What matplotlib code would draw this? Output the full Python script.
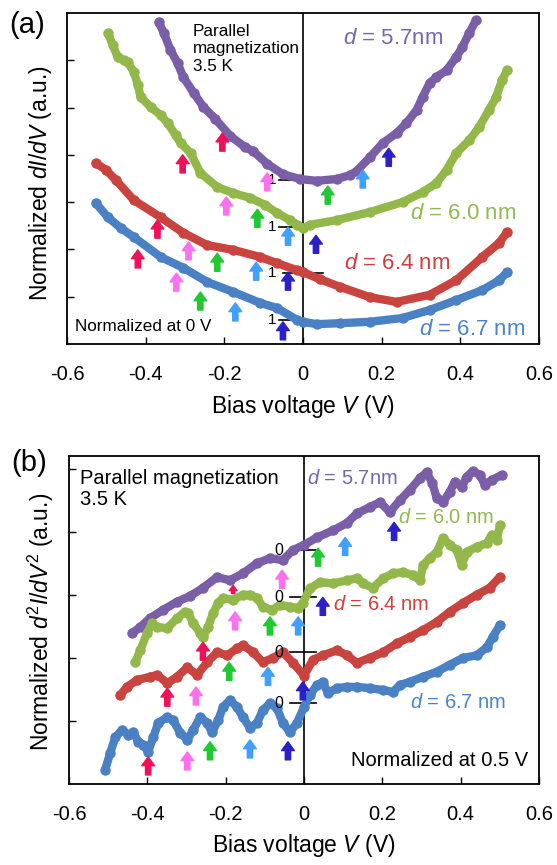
import matplotlib
matplotlib.use('Agg')
import matplotlib.pyplot as plt

plt.rcParams['font.family'] = ['Liberation Sans', 'DejaVu Sans']
plt.rcParams['axes.unicode_minus'] = False
plt.rcParams['mathtext.fontset'] = 'custom'
plt.rcParams['mathtext.rm'] = 'Liberation Sans'
plt.rcParams['mathtext.it'] = 'Liberation Sans:italic'

# ---------------- data: normalized dI/dV (1 at 0 V) ----------------
thickness = ['5.7nm', '6.0 nm', '6.4 nm', '6.7 nm']

v_a_57 = [-0.367, -0.354, -0.337, -0.319, -0.304, -0.278, -0.253, -0.223, -0.185, -0.147,
          -0.127, -0.091, -0.051, -0.008, 0.035, 0.086, 0.119, 0.137, 0.17, 0.203,
          0.238, 0.263, 0.289, 0.304, 0.322, 0.339, 0.365, 0.39, 0.405, 0.423, 0.44]
g_57 = [4.34, 4.11, 3.75, 3.47, 3.17, 2.84, 2.54, 2.29, 1.93, 1.69,
        1.61, 1.34, 1.12, 1.02, 0.98, 1.02, 1.10, 1.19, 1.48, 1.78,
        1.99, 2.20, 2.48, 2.75, 3.05, 3.17, 3.32, 3.60, 3.81, 4.11, 4.38]

v_a_60 = [-0.496, -0.484, -0.471, -0.456, -0.446, -0.430, -0.420, -0.413, -0.387, -0.362,
          -0.344, -0.324, -0.311, -0.286, -0.261, -0.218, -0.177, -0.134, -0.096, -0.066,
          -0.033, -0.015, 0.0, 0.018, 0.086, 0.170, 0.253, 0.304, 0.339, 0.365,
          0.390, 0.423, 0.448, 0.473, 0.491, 0.506, 0.519]
g_60 = [5.11, 4.85, 4.60, 4.53, 4.49, 4.28, 4.01, 3.75, 3.54, 3.37,
        3.20, 2.95, 2.78, 2.57, 2.15, 1.85, 1.72, 1.62, 1.47, 1.30,
        1.15, 1.05, 0.98, 1.05, 1.15, 1.32, 1.53, 1.74, 1.93, 2.21,
        2.57, 2.84, 3.12, 3.48, 3.75, 4.11, 4.32]

v_a_64 = [-0.527, -0.501, -0.476, -0.430, -0.362, -0.304, -0.243, -0.177, -0.109, -0.066,
          -0.015, 0.0, 0.043, 0.094, 0.170, 0.238, 0.322, 0.390, 0.456, 0.499, 0.519]
g_64 = [3.32, 3.17, 2.96, 2.53, 2.17, 1.84, 1.58, 1.48, 1.33, 1.20,
        1.05, 1.01, 0.86, 0.70, 0.48, 0.38, 0.53, 0.84, 1.33, 1.63, 1.86]

v_a_67 = [-0.527, -0.496, -0.463, -0.430, -0.362, -0.304, -0.243, -0.177, -0.109, -0.066,
          -0.015, 0.0, 0.035, 0.094, 0.170, 0.253, 0.322, 0.390, 0.456, 0.499, 0.519]
g_67 = [3.47, 3.17, 2.94, 2.75, 2.33, 2.10, 1.80, 1.59, 1.36, 1.25,
        1.00, 0.96, 0.91, 0.93, 0.96, 1.04, 1.21, 1.42, 1.63, 1.84, 2.01]

# arrow markers (bias, normalized dI/dV at arrow tip)
arrow_v_a = [[-0.205, -0.091, 0.063, 0.152, 0.218],
             [-0.306, -0.195, -0.116, -0.038, 0.033],
             [-0.370, -0.291, -0.218, -0.119, -0.038],
             [-0.420, -0.322, -0.261, -0.172, -0.051]]
arrow_g_a = [[1.99, 1.15, 0.87, 1.21, 1.67],
             [2.53, 1.64, 1.38, 1.00, 0.83],
             [2.11, 1.65, 1.41, 1.22, 1.01],
             [2.48, 1.99, 1.59, 1.36, 0.96]]

# ---------------- data: normalized d2I/dV2 ----------------
v_b_57 = [-0.439, -0.418, -0.393, -0.36, -0.324, -0.291, -0.258, -0.222, -0.189, -0.156,
          -0.12, -0.087, -0.054, -0.028, 0.0, 0.033, 0.074, 0.11, 0.135, 0.168,
          0.194, 0.219, 0.245, 0.27, 0.296, 0.313, 0.327, 0.339, 0.355, 0.372,
          0.385, 0.403, 0.415, 0.431, 0.449, 0.462, 0.479, 0.505]
h_57 = [-1.32, -1.22, -1.08, -0.95, -0.82, -0.73, -0.60, -0.43, -0.48, -0.37,
        -0.21, -0.13, -0.16, 0.00, 0.08, 0.20, 0.31, 0.43, 0.58, 0.68,
        0.76, 0.60, 0.79, 0.95, 1.14, 1.23, 1.07, 0.82, 0.76, 0.92,
        1.08, 1.00, 1.16, 1.25, 1.19, 1.03, 1.11, 1.19]

v_b_60 = [-0.431, -0.418, -0.401, -0.388, -0.375, -0.349, -0.324, -0.304, -0.296, -0.283,
          -0.265, -0.258, -0.245, -0.232, -0.219, -0.207, -0.181, -0.156, -0.138, -0.12,
          -0.105, -0.082, -0.061, -0.036, -0.015, -0.003, 0.015, 0.041, 0.074, 0.11,
          0.135, 0.151, 0.176, 0.202, 0.227, 0.253, 0.278, 0.296, 0.304, 0.321,
          0.339, 0.355, 0.372, 0.39, 0.403, 0.415, 0.441, 0.467, 0.479, 0.492, 0.5]
h_60 = [-1.03, -0.84, -0.57, -0.41, -0.47, -0.49, -0.33, -0.23, -0.25, -0.41,
        -0.57, -0.63, -0.47, -0.25, -0.09, -0.01, -0.04, 0.04, 0.04, -0.01,
        -0.15, -0.20, -0.12, -0.15, -0.17, -0.09, 0.14, 0.24, 0.22, 0.27,
        0.30, 0.22, 0.15, 0.30, 0.38, 0.40, 0.35, 0.27, 0.51, 0.62,
        0.72, 0.94, 0.83, 0.75, 0.51, 0.72, 0.80, 0.86, 0.99, 0.91, 1.14]

v_b_64 = [-0.469, -0.452, -0.426, -0.393, -0.375, -0.349, -0.324, -0.298, -0.273, -0.247,
          -0.222, -0.196, -0.171, -0.156, -0.13, -0.105, -0.079, -0.054, -0.028, 0.0,
          0.023, 0.048, 0.084, 0.11, 0.135, 0.168, 0.202, 0.237, 0.27, 0.304,
          0.339, 0.372, 0.406, 0.441, 0.474, 0.5]
h_64 = [-0.68, -0.55, -0.44, -0.39, -0.36, -0.49, -0.39, -0.24, -0.36, -0.16,
        0.00, -0.05, 0.06, 0.11, 0.00, -0.16, -0.09, 0.00, -0.17, -0.37,
        -0.12, -0.05, 0.03, -0.05, -0.17, -0.09, 0.00, 0.14, 0.24, 0.35,
        0.48, 0.64, 0.78, 0.91, 1.02, 1.19]

v_b_67 = [-0.508, -0.495, -0.482, -0.464, -0.449, -0.436, -0.423, -0.41, -0.398, -0.385,
          -0.372, -0.349, -0.334, -0.316, -0.298, -0.283, -0.265, -0.247, -0.235, -0.219,
          -0.207, -0.189, -0.171, -0.156, -0.138, -0.12, -0.105, -0.087, -0.069, -0.054,
          -0.036, -0.018, 0.0, 0.015, 0.033, 0.048, 0.061, 0.084, 0.11, 0.135,
          0.168, 0.202, 0.227, 0.245, 0.27, 0.304, 0.339, 0.372, 0.406, 0.441,
          0.467, 0.482, 0.5]
h_67 = [-1.06, -0.79, -0.54, -0.42, -0.50, -0.46, -0.61, -0.66, -0.77, -0.54,
        -0.31, -0.22, -0.27, -0.47, -0.58, -0.42, -0.22, -0.31, -0.46, -0.27,
        -0.06, 0.05, -0.06, -0.22, -0.39, -0.31, -0.11, 0.00, -0.08, -0.31,
        -0.46, -0.31, -0.06, 0.13, 0.29, 0.34, 0.16, 0.24, 0.26, 0.26,
        0.24, 0.21, 0.18, 0.29, 0.34, 0.42, 0.50, 0.61, 0.72, 0.76,
        0.89, 1.05, 1.24]

arrow_v_b = [[-0.181, -0.056, 0.036, 0.105, 0.230],
             [-0.258, -0.176, -0.087, -0.015, 0.048],
             [-0.349, -0.276, -0.191, -0.092, -0.003],
             [-0.398, -0.298, -0.240, -0.138, -0.041]]
arrow_h_b = [[-0.56, -0.32, 0.03, 0.20, 0.44],
             [-0.71, -0.23, -0.31, -0.31, 0.00],
             [-0.57, -0.55, -0.16, -0.24, -0.47],
             [-0.85, -0.77, -0.61, -0.58, -0.61]]

x_ticks = [-0.6, -0.4, -0.2, 0.0, 0.2, 0.4, 0.6]
x_tick_labels = ['-0.6', '-0.4', '-0.2', '0', '0.2', '0.4', '0.6']

# ---------------- styling ----------------
curve_colors = ['#7b5ea8', '#93b84a', '#c9443f', '#4a80c4']
label_colors = ['#7866ab', '#93b84f', '#cf3f3f', '#4a84c6']
arrow_colors = ['#f0105a', '#ff70f0', '#20c832', '#3fa0ff', '#2b20c8']
shift_a = [2.47, 1.47, 0.51, -0.49]   # vertical offsets, panel (a)
shift_b = [3.71, 2.96, 2.09, 1.28]    # vertical offsets, panel (b)

fig = plt.figure(figsize=(5.57, 8.65), dpi=100)
ax_a = fig.add_axes([0.1203, 0.6023, 0.8474, 0.3827])
ax_b = fig.add_axes([0.1239, 0.0936, 0.8438, 0.3792])


def style_axes(ax, ylim, yticks):
    ax.set_xlim(-0.6, 0.6)
    ax.set_ylim(*ylim)
    ax.set_xticks(x_ticks)
    ax.set_xticklabels(x_tick_labels)
    ax.set_yticks(yticks)
    ax.set_yticklabels([])
    ax.tick_params(direction='in', length=5, width=1.0, labelsize=14.5, pad=15)
    for s in ax.spines.values():
        s.set_linewidth(1.3)
    ax.axvline(0, color='k', lw=1.2, zorder=2)


def draw_curve(ax, v, y, shift, color):
    ax.plot(v, [val + shift for val in y], color=color, lw=6, marker='o', ms=6.5,
            solid_joinstyle='round', solid_capstyle='round', zorder=3)


def draw_arrows(ax, vs, ys, shift, lengths=None):
    for i, (v, y, c) in enumerate(zip(vs, ys, arrow_colors)):
        L = 13 if lengths is None else lengths[i]
        ms = 11.5 if L >= 10 else 7
        ax.annotate('', xy=(v, y + shift), xytext=(0, -L), textcoords='offset points',
                    arrowprops=dict(arrowstyle='simple,head_length=0.55,head_width=0.8,tail_width=0.33',
                                    color=c, shrinkA=0, shrinkB=0, mutation_scale=ms),
                    zorder=5)


# ---------------- panel (a) ----------------
style_axes(ax_a, (0, 7), [1, 2, 3, 4, 5, 6])
for v, g, s, c in zip([v_a_57, v_a_60, v_a_64, v_a_67], [g_57, g_60, g_64, g_67],
                      shift_a, curve_colors):
    draw_curve(ax_a, v, g, s, c)
for vs, gs, s in zip(arrow_v_a, arrow_g_a, shift_a):
    draw_arrows(ax_a, vs, gs, s)

# reference marks at normalized value 1
for i, s in enumerate(shift_a):
    x0, x1 = (-0.05, 0.05) if i == 2 else (-0.06, 0.0)
    ax_a.plot([x0, x1], [1 + s, 1 + s], color='k', lw=1.2, zorder=2.5)
    ax_a.text(-0.067, 1 + s, '1', ha='right', va='center', fontsize=11)

lab_pos_a = [(0.101, 6.47), (0.271, 2.77), (0.104, 1.71), (0.296, 0.30)]
for (x, y), t, c in zip(lab_pos_a, thickness, label_colors):
    ax_a.text(x, y, r'$d$ = ' + t, color=c, fontsize=16, ha='left', va='center')

ax_a.text(0.267, 0.968, 'Parallel\nmagnetization\n3.5 K', transform=ax_a.transAxes,
          ha='left', va='top', fontsize=12.3, linespacing=1.22)
ax_a.text(0.017, 0.054, 'Normalized at 0 V', transform=ax_a.transAxes,
          ha='left', va='center', fontsize=12.3)
ax_a.set_xlabel(r'Bias voltage $V$ (V)', fontsize=16.5, va='top')
ax_a.xaxis.set_label_coords(0.5, -0.148)
ax_a.set_ylabel(r'Normalized $dI/dV$ (a.u.)', fontsize=16.5)
ax_a.yaxis.set_label_coords(-0.027, 0.486)

# ---------------- panel (b) ----------------
style_axes(ax_b, (0, 5.2), [1, 2, 3, 4, 5])
for v, h, s, c in zip([v_b_57, v_b_60, v_b_64, v_b_67], [h_57, h_60, h_64, h_67],
                      shift_b, curve_colors):
    draw_curve(ax_b, v, h, s, c)
for k, (vs, hs, s) in enumerate(zip(arrow_v_b, arrow_h_b, shift_b)):
    draw_arrows(ax_b, vs, hs, s, lengths=[6, 13, 13, 13, 13] if k == 0 else None)

# reference marks at normalized value 0
for s in shift_b:
    ax_b.plot([-0.036, 0.03], [s, s], color='k', lw=1.2, zorder=2.5)
    ax_b.text(-0.052, s, '0', ha='right', va='center', fontsize=11.5)

lab_pos_b = [(0.008, 4.85), (0.24, 4.22), (0.074, 2.84), (0.27, 1.30)]
for (x, y), t, c in zip(lab_pos_b, thickness, label_colors):
    ax_b.text(x, y, r'$d$ = ' + t, color=c, fontsize=14.5, ha='left', va='center')

ax_b.text(0.023, 0.96, 'Parallel magnetization\n3.5 K', transform=ax_b.transAxes,
          ha='left', va='top', fontsize=14.5, linespacing=1.15)
ax_b.text(0.977, 0.073, 'Normalized at 0.5 V', transform=ax_b.transAxes,
          ha='right', va='center', fontsize=14.5)
ax_b.set_xlabel(r'Bias voltage $V$ (V)', fontsize=16.5, va='top')
ax_b.xaxis.set_label_coords(0.5, -0.146)
ax_b.set_ylabel(r'Normalized $d^2I/dV^2$ (a.u.)', fontsize=16.5)
ax_b.yaxis.set_label_coords(-0.028, 0.494)

fig.text(0.016, 1 - 25 / 865, '(a)', fontsize=21, ha='left', va='center')
fig.text(0.020, 1 - 463 / 865, '(b)', fontsize=21, ha='left', va='center')

fig.savefig('out.png', dpi=100)
